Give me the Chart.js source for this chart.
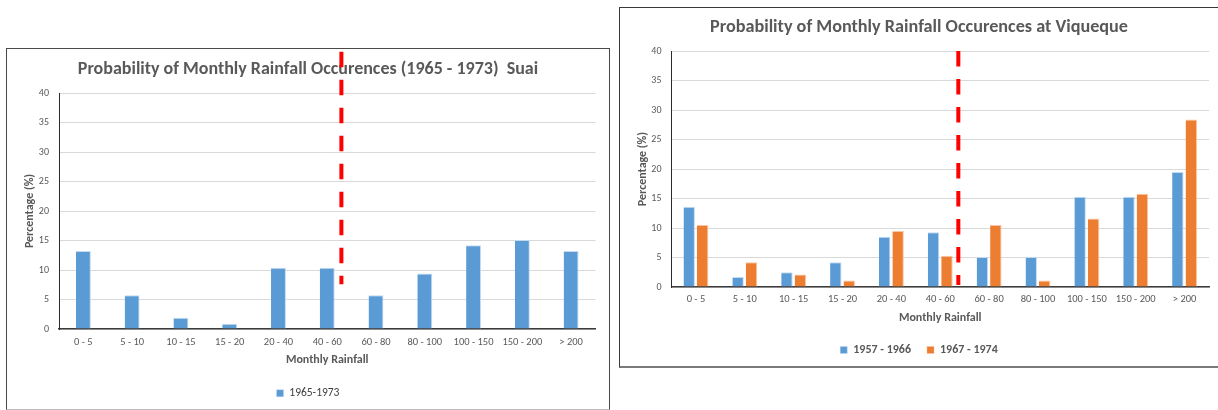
<!DOCTYPE html>
<html>
<head>
<meta charset="utf-8">
<script src="https://cdn.jsdelivr.net/npm/chart.js@4.4.1/dist/chart.umd.min.js"></script>
<style>
  html, body { margin: 0; padding: 0; background: #ffffff; }
  body { width: 1218px; height: 410px; position: relative; overflow: hidden; }
  .panel { position: absolute; box-sizing: border-box; background: #fff; }
  #suaiPanel { left: 6px; top: 48px; width: 604px; height: 362px;
    border: 1px solid #4a4a4a; border-bottom-color: #bdbdbd; }
  #viqPanel { left: 619px; top: 7px; width: 599px; height: 361px;
    border: 1px solid #3a3a3a; border-bottom: 2px solid #7a7a7a; border-right: none; }
  canvas { display: block; }
</style>
</head>
<body>
<div class="panel" id="suaiPanel"><canvas id="suai" width="602" height="360"></canvas></div>
<div class="panel" id="viqPanel"><canvas id="viq" width="598" height="358"></canvas></div>
<script>
// Monthly rainfall classes (mm)
const categories = ['0 - 5', '5 - 10', '10 - 15', '15 - 20', '20 - 40', '40 - 60',
                    '60 - 80', '80 - 100', '100 - 150', '150 - 200', '> 200'];

// Probability of occurrence (%) per class
const suai1965 = [13.2, 5.7, 1.9, 0.9, 10.4, 10.4, 5.7, 9.4, 14.2, 15.1, 13.2];
const viqueque1957 = [13.6, 1.7, 2.5, 4.2, 8.5, 9.3, 5.1, 5.1, 15.3, 15.3, 19.5];
const viqueque1967 = [10.5, 4.2, 2.1, 1.1, 9.5, 5.3, 10.5, 1.1, 11.6, 15.8, 28.4];

// Percentage axis range
const yMin = 0, yMax = 40, yStep = 5;

// Dry/wet threshold marker: position in category units, extent in percent
const suaiCutoff = { at: 5.29, from: 47.0, to: 7.6 };
const viquequeCutoff = { at: 5.37, from: 40.0, to: 0.35 };

const FONT = 'Carlito, Calibri, Lato, "Liberation Sans", sans-serif';
const BLUE = '#5B9BD5', ORANGE = '#ED7D31', TEXT = '#595959';

const cutoffPlugin = {
  id: 'cutoffLine',
  afterDraw(chart, args, opts) {
    const { ctx, scales: { x, y } } = chart;
    const px = x.getPixelForValue(opts.at);
    ctx.save();
    ctx.strokeStyle = '#FF0000';
    ctx.lineWidth = 4;
    ctx.setLineDash([15.5, 12.5]);
    ctx.beginPath();
    ctx.moveTo(px, y.getPixelForValue(opts.from));
    ctx.lineTo(px, y.getPixelForValue(opts.to));
    ctx.stroke();
    ctx.restore();
  }
};

function makeChart(id, cfg) {
  return new Chart(document.getElementById(id), {
    type: 'bar',
    data: { labels: categories, datasets: cfg.datasets },
    plugins: [cutoffPlugin],
    options: {
      responsive: false,
      animation: false,
      devicePixelRatio: 1,
      layout: { padding: 0 },
      plugins: {
        cutoffLine: cfg.cutoff,
        tooltip: { enabled: false },
        title: {
          display: true,
          text: cfg.title,
          color: TEXT,
          font: { family: FONT, size: cfg.titleSize, weight: 'bold', lineHeight: 1.2 },
          padding: { top: cfg.titleTop, bottom: cfg.titleBottom }
        },
        legend: {
          position: 'bottom',
          labels: {
            boxWidth: 7, boxHeight: 7, padding: cfg.legendPad,
            color: cfg.legendColor,
            font: { family: FONT, size: cfg.legendSize, weight: cfg.legendWeight }
          }
        }
      },
      scales: {
        x: {
          grid: { display: false, drawTicks: false },
          border: { display: true, color: '#3c3c3c', width: 1.5 },
          ticks: { color: TEXT, font: { family: FONT, size: 10.5 }, padding: cfg.xTickPad, maxRotation: 0, autoSkip: false },
          title: {
            display: true, text: 'Monthly Rainfall', color: TEXT,
            font: { family: FONT, size: 12, weight: 'bold', lineHeight: 1.2 },
            padding: { top: 0, bottom: cfg.xTitlePad }
          },
          afterFit(scale) { scale.height = cfg.xHeight; }
        },
        y: {
          min: yMin, max: yMax,
          ticks: { stepSize: yStep, color: TEXT, font: { family: FONT, size: 10 }, padding: 10 },
          grid: { color: '#d9d9d9', lineWidth: 1, drawTicks: false },
          border: { display: true, color: '#2a2a2a', width: 1 },
          title: {
            display: true, text: 'Percentage (%)', color: TEXT,
            font: { family: FONT, size: 12, weight: 'bold', lineHeight: 1.2 },
            padding: { top: 15.5, bottom: 0 }
          },
          afterFit(scale) { scale.width = cfg.yWidth; }
        },
        // empty right-hand margin so titles and legend stay centred on the panel
        margin: {
          type: 'linear', axis: 'y', position: 'right',
          grid: { display: false, drawTicks: false },
          border: { display: false },
          ticks: { display: false },
          afterFit(scale) { scale.width = cfg.padRight; }
        }
      }
    }
  });
}

makeChart('suai', {
  title: 'Probability of Monthly Rainfall Occurences (1965 - 1973)  Suai',
  titleSize: 18, titleTop: 9.2, titleBottom: 13.2,
  padRight: 13.5, yWidth: 52, xHeight: 48.5, xTickPad: 7.5, xTitlePad: 10.7,
  legendPad: 10, legendSize: 11.5, legendWeight: 'normal', legendColor: '#404040',
  cutoff: suaiCutoff,
  datasets: [{
    label: '1965-1973', data: suai1965,
    backgroundColor: BLUE, borderColor: 'rgba(190,215,240,0.9)', borderWidth: { top: 1, right: 1, left: 0, bottom: 0 },
    categoryPercentage: 0.34, barPercentage: 0.9
  }]
});

makeChart('viq', {
  title: 'Probability of Monthly Rainfall Occurences at Viqueque',
  titleSize: 18.2, titleTop: 8.2, titleBottom: 13.0,
  padRight: 9, yWidth: 51.5, xHeight: 41, xTickPad: 6.5, xTitlePad: 3.2,
  legendPad: 16, legendSize: 12, legendWeight: 'bold', legendColor: TEXT,
  cutoff: viquequeCutoff,
  datasets: [
    { label: '1957 - 1966', data: viqueque1957,
      backgroundColor: BLUE, borderColor: 'rgba(190,215,240,0.9)', borderWidth: { top: 1, right: 1, left: 0, bottom: 0 },
      categoryPercentage: 0.55, barPercentage: 0.85 },
    { label: '1967 - 1974', data: viqueque1967,
      backgroundColor: ORANGE, borderColor: 'rgba(248,190,150,0.9)', borderWidth: { top: 1, right: 1, left: 0, bottom: 0 },
      categoryPercentage: 0.55, barPercentage: 0.85 }
  ]
});
</script>
</body>
</html>
